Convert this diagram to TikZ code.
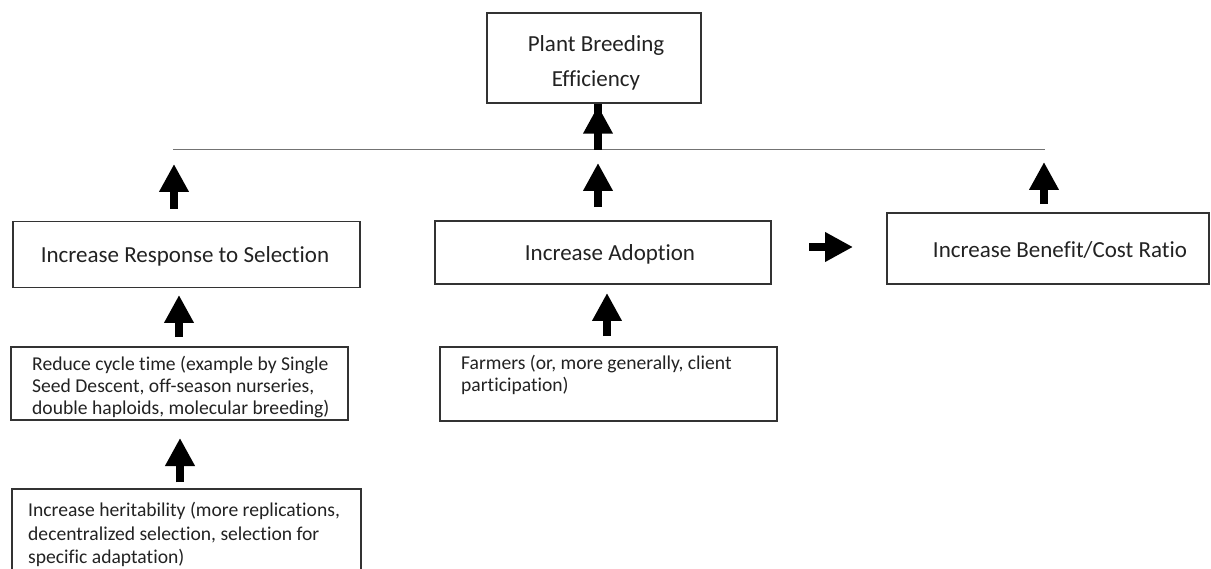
\documentclass[tikz,border=0pt]{standalone}
\usepackage{fontspec}
\setmainfont{Carlito}[Ligatures=NoCommon]
\usetikzlibrary{arrows.meta,calc}
\definecolor{inkc}{HTML}{222222}
\definecolor{boxc}{HTML}{333333}
\tikzset{
  box/.style={draw=boxc, line width=1.5pt, inner sep=0pt, text=inkc},
  bigtxt/.style={font=\fontsize{23}{35}\selectfont, text=inkc, inner sep=0pt},
  smalltxt/.style={font=\fontsize{19.6}{22}\selectfont, text=inkc, align=left, inner sep=0pt},
  blockarrow/.style={draw=black, line width=8pt, -{Triangle[width=28pt,length=28pt]}},
}
\begin{document}
\begin{tikzpicture}[x=1pt,y=-1pt]
\useasboundingbox (0,0) rectangle (1211,569);
\clip (0,0) rectangle (1211,569);
% boxes
\node[box, minimum width=214pt, minimum height=90pt] (pbe) at (594,58) {};
\node[bigtxt, align=center] (pbetxt) at (596,63) {Plant Breeding\\Efficiency};
\node[box, minimum width=347pt, minimum height=66pt] (irs) at (186.5,254.5) {};
\node[bigtxt] (irstxt) at (185,256) {Increase Response to Selection};
\node[box, minimum width=336pt, minimum height=63pt] (ia) at (603,252.5) {};
\node[bigtxt] (iatxt) at (610,254) {Increase Adoption};
\node[box, minimum width=322pt, minimum height=71pt] (ibc) at (1048,248.5) {};
\node[bigtxt] (ibctxt) at (1060,250) {Increase Benefit/Cost Ratio};
\node[box, minimum width=337pt, minimum height=73pt] (rct) at (179.5,383.5) {};
\node[smalltxt, anchor=north west] (rcttxt) at (32,356) {Reduce cycle time (example by Single\\Seed Descent, off-season nurseries,\\double haploids, molecular breeding)};
\node[box, minimum width=349pt, minimum height=110pt] (ih) at (186.5,544) {};
\node[smalltxt, anchor=north west, font=\fontsize{19.6}{23.5}\selectfont] (ihtxt) at (28,502) {Increase heritability (more replications,\\decentralized selection, selection for\\specific adaptation)};
\node[box, minimum width=337pt, minimum height=74pt] (fa) at (608.5,384) {};
\node[smalltxt, anchor=north west] (fatxt) at (461,355) {Farmers (or, more generally, client\\participation)};
% horizontal line
\coordinate (hl) at (173,150);
\coordinate (hr) at (1045,150);
\draw[draw=black!55, line width=1pt] (hl) -- (hr);
% arrows
\coordinate (a0b) at (598,150);
\draw[blockarrow] (a0b) -- (pbe.south -| a0b) ++(0,2);
\coordinate (a1t) at (174,164);
\coordinate (a2t) at (598,163);
\coordinate (a3t) at (1044,162);
\draw[blockarrow] (irs.north -| a1t) ++(0,-12) -- (a1t);
\draw[blockarrow] (ia.north -| a2t) ++(0,-13) -- (a2t);
\draw[blockarrow] (ibc.north -| a3t) ++(0,-8) -- (a3t);
\coordinate (a4t) at (179,295);
\draw[blockarrow] (rct.north -| a4t) ++(0,-9) -- (a4t);
\coordinate (a5t) at (180,438);
\draw[blockarrow] (ih.north -| a5t) ++(0,-6) -- (a5t);
\coordinate (a6t) at (607,293);
\draw[blockarrow] (fa.north -| a6t) ++(0,-10) -- (a6t);
\coordinate (a7l) at (809,247);
\coordinate (a7r) at (853,247);
\draw[blockarrow] (a7l) -- (a7r);
\end{tikzpicture}
\end{document}
